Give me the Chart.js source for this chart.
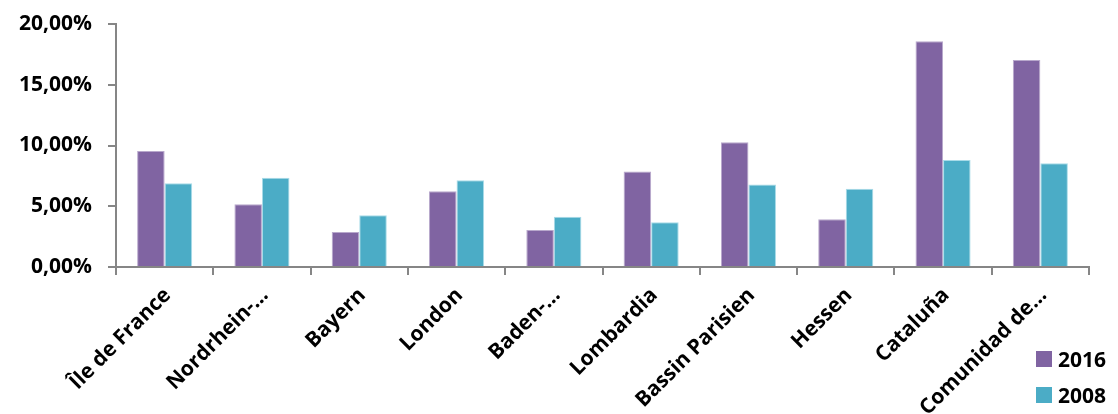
<!DOCTYPE html>
<html>
<head>
<meta charset="utf-8">
<script src="https://cdn.jsdelivr.net/npm/chart.js@4.4.1/dist/chart.umd.min.js"></script>
<style>
  html, body { margin: 0; padding: 0; background: #fff; }
  #wrap { position: relative; width: 1118px; height: 414px; overflow: hidden; }
  #legend { position: absolute; left: 1036px; top: 341px; font: bold 21px "Open Sans", sans-serif; color: #000; }
  #legend div { display: flex; align-items: center; height: 36px; }
  #legend span { display: inline-block; width: 16px; height: 16px; margin-right: 6px; }
</style>
</head>
<body>
<div id="wrap">
  <canvas id="chart" width="1118" height="414"></canvas>
  <div id="legend"></div>
</div>
<script>
// Regiones
const regions = ["Île de France", "Nordrhein-…", "Bayern", "London", "Baden-…",
  "Lombardia", "Bassin Parisien", "Hessen", "Cataluña", "Comunidad de…"];

// Valores en %
const values2016 = [9.55, 5.16, 2.88, 6.23, 3.05, 7.87, 10.26, 3.92, 18.57, 17.04];
const values2008 = [6.89, 7.35, 4.25, 7.13, 4.14, 3.68, 6.78, 6.45, 8.81, 8.54];

const seriesLabels = ["2016", "2008"];
const colors = ["#8064A2", "#4BACC6"];
const axisColor = "#868686";
const tickFont = { family: "Open Sans", weight: "bold", size: 21 };

const formatPct = (v) => v.toFixed(2).replace(".", ",") + "%";

const ctx = document.getElementById("chart").getContext("2d");
const chart = new Chart(ctx, {
  type: "bar",
  data: {
    labels: regions,
    datasets: [
      { label: seriesLabels[0], data: values2016, backgroundColor: colors[0], borderColor: "#b8a8cc", borderWidth: 1 },
      { label: seriesLabels[1], data: values2008, backgroundColor: colors[1], borderColor: "#a8dbe8", borderWidth: 1 },
    ],
  },
  options: {
    responsive: false,
    animation: false,
    layout: { padding: { top: 24, right: 29, left: 0, bottom: 0 } },
    datasets: { bar: { categoryPercentage: 0.566, barPercentage: 1 } },
    plugins: { legend: { display: false }, tooltip: { enabled: false } },
    scales: {
      x: {
        afterFit: (scale) => { scale.height = 147; },
        grid: { drawOnChartArea: false, color: axisColor, lineWidth: 2, tickLength: 8 },
        border: { color: axisColor, width: 2 },
        ticks: {
          color: "#000",
          font: tickFont,
          maxRotation: 45,
          minRotation: 45,
          autoSkip: false,
          padding: 8,
          labelOffset: 3,
        },
      },
      y: {
        min: 0,
        max: 20,
        afterFit: (scale) => {
          scale.width = 116;
          scale.paddingTop = 0;
          scale.paddingBottom = 0;
        },
        grid: { drawOnChartArea: false, color: axisColor, lineWidth: 2, tickLength: 8 },
        border: { color: axisColor, width: 2 },
        ticks: {
          stepSize: 5,
          color: "#000",
          font: tickFont,
          padding: 16,
          callback: (v) => formatPct(v),
        },
      },
    },
  },
});

// Leyenda
const legend = document.getElementById("legend");
seriesLabels.forEach((s, i) => {
  const row = document.createElement("div");
  row.innerHTML = `<span style="background:${colors[i]}"></span>${s}`;
  legend.appendChild(row);
});
</script>
</body>
</html>
